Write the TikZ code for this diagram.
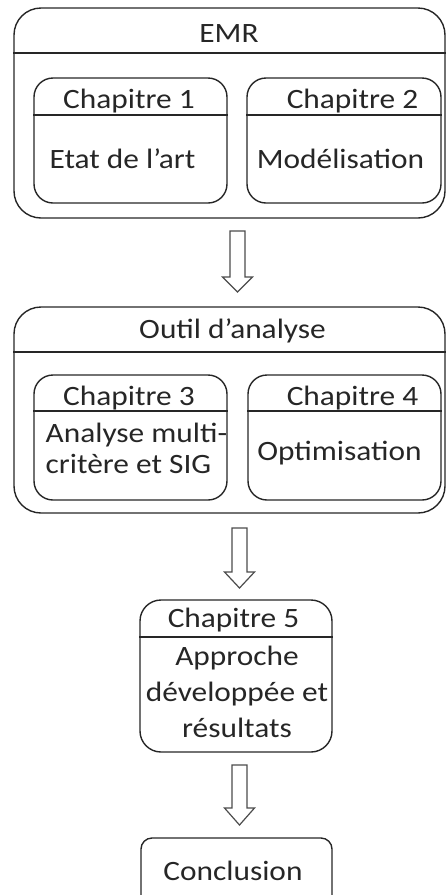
\documentclass[tikz,border=0pt]{standalone}
\usepackage{fontspec}
\setmainfont{Carlito}[FakeStretch=1.12]
\begin{document}
\begin{tikzpicture}[x=1pt,y=-1pt,line width=1.4pt,
  part/.style={draw=black!85,rounded corners=27pt,minimum width=431pt,inner sep=0pt},
  chap/.style={draw=black!85,rounded corners=19pt,inner sep=0pt},
  lbl/.style={anchor=base,inner sep=0pt,font=\fontsize{28}{31}\selectfont,text=black!85},
  flow/.style={draw=black!70,line width=1.2pt,fill=white}]
\def\aw{7.5};
\def\ah{15};

\useasboundingbox (0,0) rectangle (447,895);
\clip (0,0) rectangle (447,895);

% EMR
\node[part,minimum height=210pt] (emr) at (229.5,113) {};
\coordinate (emrH) at (0,53);
\draw[black!85] (emr.west |- emrH) -- (emr.east |- emrH);
\node[lbl] (emrT) at (229,42) {EMR};

\node[chap,minimum width=193pt,minimum height=125pt] (ch1) at (130.5,140.5) {};
\node[chap,minimum width=194pt,minimum height=125pt] (ch2) at (344,140.5) {};
\coordinate (ch12H) at (0,115);
\draw[black!85] (ch1.west |- ch12H) -- (ch1.east |- ch12H);
\draw[black!85] (ch2.west |- ch12H) -- (ch2.east |- ch12H);
\node[lbl] (ch1T) at (129,108) {Chapitre 1};
\node[lbl] (ch1B) at (122.5,168) {Etat de l’art};
\node[lbl] (ch2T) at (352.5,108) {Chapitre 2};
\node[lbl] (ch2B) at (340.5,168) {Modélisation};

% Outil d'analyse
\node[part,minimum height=206pt] (outil) at (229.5,410) {};
\coordinate (outilH) at (0,352);
\draw[black!85] (outil.west |- outilH) -- (outil.east |- outilH);
\node[lbl] (outilT) at (232.5,338) {Outil d’analyse};

\node[chap,minimum width=193pt,minimum height=125pt] (ch3) at (130.5,437.5) {};
\node[chap,minimum width=193pt,minimum height=125pt] (ch4) at (344.5,437.5) {};
\coordinate (ch34H) at (0,411);
\draw[black!85] (ch3.west |- ch34H) -- (ch3.east |- ch34H);
\draw[black!85] (ch4.west |- ch34H) -- (ch4.east |- ch34H);
\node[lbl] (ch3T) at (129,405) {Chapitre 3};
\node[lbl,anchor=base west,align=left] (ch3B) at (45,473) {Analyse multi-\\critère et SIG};
\node[lbl] (ch4T) at (352.5,405) {Chapitre 4};
\node[lbl] (ch4B) at (339.5,460) {Optimisation};

% Chapitre 5
\node[chap,rounded corners=21pt,minimum width=192pt,minimum height=152pt] (ch5) at (236,676) {};
\coordinate (ch5H) at (0,637);
\draw[black!85] (ch5.west |- ch5H) -- (ch5.east |- ch5H);
\node[lbl] (ch5T) at (233.5,627) {Chapitre 5};
\node[lbl,align=center,font=\fontsize{28}{36}\selectfont] (ch5B) at (237,737) {Approche\\développée et\\résultats};

% Conclusion
\node[chap,rounded corners=11pt,minimum width=191pt,minimum height=70pt] (concl) at (236.5,873) {};
\node[lbl] (conclT) at (233,880) {Conclusion};

% arrows
\foreach \ax/\ay/\ahd/\at in {237.5/231/277/292, 239.5/528/572/588, 239.5/765/808/825}
  \draw[flow] (\ax-\aw,\ay) -- (\ax+\aw,\ay) -- (\ax+\aw,\ahd) -- (\ax+\ah,\ahd)
    -- (\ax,\at) -- (\ax-\ah,\ahd) -- (\ax-\aw,\ahd) -- cycle;
\end{tikzpicture}
\end{document}
